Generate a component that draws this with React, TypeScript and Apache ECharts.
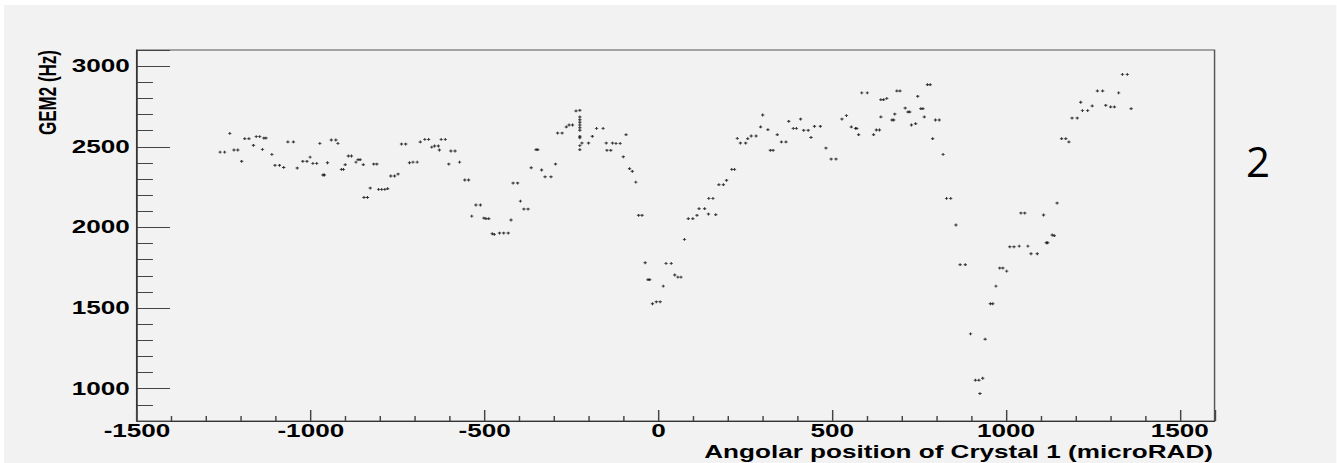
import React, { useEffect, useRef } from "react";
import * as echarts from "echarts";

// Angular position of crystal 1 (microRAD)
const xVals: number[] = [
  -1261, -1248, -1233, -1221, -1210, -1199, -1190, -1178, -1165, -1157, -1147, -1139, -1135, -1129,
  -1112, -1103, -1090, -1078, -1066, -1050, -1039, -1023, -1011, -1002, -994, -983, -974, -965, -961,
  -952, -941, -928, -922, -912, -906, -901, -892, -883, -870, -864, -858, -849, -847, -837, -829, -819,
  -810, -805, -796, -787, -779, -770, -759, -749, -739, -727, -716, -706, -694, -685, -672, -661, -652,
  -644, -633, -630, -625, -613, -603, -597, -585, -572, -557, -546, -537, -525, -512, -502, -496, -488,
  -478, -472, -457, -445, -432, -424, -418, -405, -397, -387, -375, -366, -352, -347, -336, -326, -309,
  -296, -290, -277, -265, -257, -247, -237, -226, -226, -226, -226, -226, -226, -226, -226, -226, -226,
  -226, -220, -201, -190, -178, -159, -150, -148, -137, -132, -122, -110, -101, -93, -83, -75, -65, -57,
  -47, -38, -30, -25, -17, -6, 5, 14, 22, 37, 47, 56, 65, 75, 86, 99, 111, 117, 133, 144, 145, 157, 165,
  174, 187, 196, 211, 219, 227, 236, 251, 257, 267, 281, 294, 300, 315, 322, 330, 342, 354, 367, 375,
  388, 397, 409, 418, 431, 439, 449, 466, 482, 497, 511, 528, 541, 555, 567, 571, 576, 585, 601, 619,
  627, 636, 640, 648, 640, 657, 672, 677, 680, 686, 695, 710, 718, 723, 728, 740, 746, 755, 761, 765,
  774, 782, 789, 797, 808, 819, 829, 841, 856, 868, 883, 898, 912, 922, 925, 933, 940, 955, 962, 971,
  982, 991, 1002, 1011, 1023, 1038, 1043, 1054, 1063, 1072, 1090, 1108, 1116, 1120, 1133, 1139, 1147,
  1160, 1172, 1181, 1190, 1205, 1215, 1220, 1235, 1248, 1263, 1278, 1287, 1301, 1312, 1324, 1335, 1349,
  1360,
];

// GEM2 rate (Hz)
const yVals: number[] = [
  2467, 2467, 2583, 2480, 2480, 2410, 2550, 2550, 2509, 2563, 2563, 2484, 2554, 2554,
  2453, 2385, 2385, 2372, 2530, 2530, 2368, 2410, 2410, 2436, 2397, 2397, 2521, 2325, 2325,
  2401, 2542, 2542, 2521, 2360, 2360, 2389, 2443, 2443, 2405, 2420, 2420, 2389, 2186, 2186, 2244, 2393,
  2393, 2236, 2236, 2236, 2240, 2319, 2319, 2331, 2517, 2517, 2401, 2405, 2405, 2530, 2546, 2546, 2498,
  2505, 2505, 2480, 2546, 2546, 2393, 2474, 2474, 2405, 2294, 2294, 2070, 2139, 2139, 2058, 2054, 2054,
  1961, 1957, 1965, 1965, 1965, 2046, 2275, 2275, 2163, 2114, 2114, 2370, 2482, 2482, 2356, 2314, 2314,
  2393, 2585, 2585, 2623, 2635, 2635, 2722, 2726, 2685, 2668, 2652, 2635, 2618, 2602, 2565, 2556, 2507,
  2482, 2523, 2523, 2565, 2614, 2614, 2523, 2478, 2478, 2523, 2521, 2521, 2438, 2575, 2364, 2348, 2281, 2075,
  2075, 1781, 1676, 1676, 1527, 1539, 1539, 1636, 1777, 1777, 1705, 1692, 1692, 1926, 2054, 2054, 2075, 2116, 2116, 2083, 2180, 2180, 2079,
  2265, 2265, 2292, 2360, 2360, 2552, 2523, 2523, 2550, 2567, 2567, 2623, 2697, 2606, 2478, 2478, 2575, 2530, 2530, 2658,
  2614, 2614, 2672, 2602, 2602, 2558, 2627, 2627, 2492, 2424, 2424, 2672, 2693, 2623, 2614, 2614, 2575, 2834, 2834, 2575,
  2604, 2604, 2792, 2792, 2685, 2800, 2666, 2666, 2703, 2846, 2846, 2740, 2716, 2716, 2635, 2643, 2813, 2736, 2736, 2685,
  2885, 2885, 2550, 2666, 2666, 2453, 2180, 2180, 2015, 1769, 1769, 1340, 1053, 1053, 970, 1065, 1307, 1527, 1527, 1636,
  1748, 1748, 1729, 1880, 1880, 1884, 2089, 2089, 1884, 1837, 1837, 2077, 1905, 1905, 1953, 1949, 2151,
  2550, 2550, 2530, 2678, 2678, 2776, 2724, 2724, 2753, 2846, 2846, 2757, 2747, 2747, 2834, 2949, 2949,
  2736,
];

const xTickLabels: number[] = [-1500, -1000, -500, 0, 500, 1000, 1500];
const yTickLabels: number[] = [1000, 1500, 2000, 2500, 3000];

const xTitle = "Angolar position of Crystal 1 (microRAD)";
const yTitle = "GEM2 (Hz)";
const padLabel = "2";

// the reference picture is stretched horizontally
const SX = 1.45;
const FULL_W = 1333;
const FULL_H = 458;
const CW = FULL_W / SX;

const labelFont = {
  fontFamily: "Liberation Sans",
  fontWeight: "bold" as const,
  fontSize: 18,
  color: "#000",
};

export default function App() {
  const ref = useRef<HTMLDivElement>(null);

  useEffect(() => {
    if (!ref.current) return;
    const chart = echarts.init(ref.current, undefined, { renderer: "svg" });
    const data = xVals.map((x, i) => [x, yVals[i]]);
    const plotLeft = (137 - 4) / SX;
    const plotRight = (1215 - 4) / SX;

    chart.setOption({
      animation: false,
      backgroundColor: "#f2f2f2",
      grid: {
        left: plotLeft,
        right: CW - plotRight,
        top: 45,
        bottom: 42,
        show: true,
        borderColor: "#555",
        borderWidth: 1,
        backgroundColor: "transparent",
        containLabel: false,
      },
      xAxis: {
        type: "value",
        min: -1500,
        max: 1600,
        interval: 500,
        axisLine: { show: true, onZero: false, lineStyle: { color: "#333", width: 1 } },
        axisTick: { show: true, inside: true, length: 11, lineStyle: { color: "#444", width: 1 } },
        minorTick: { show: true, splitNumber: 5, length: 5, lineStyle: { color: "#444", width: 1 } },
        splitLine: { show: false },
        minorSplitLine: { show: false },
        axisLabel: {
          ...labelFont,
          margin: 1,
          showMaxLabel: false,
          formatter: (v: number) => (xTickLabels.includes(v) ? String(v) : ""),
        },
      },
      yAxis: {
        type: "value",
        min: 800,
        max: 3100,
        splitNumber: 5,
        axisLine: { show: true, onZero: false, lineStyle: { color: "#333", width: 1 } },
        axisTick: { show: true, inside: true, length: 22.8, lineStyle: { color: "#444", width: 1 } },
        minorTick: { show: true, splitNumber: 5, length: 11, lineStyle: { color: "#444", width: 1 } },
        splitLine: { show: false },
        minorSplitLine: { show: false },
        axisLabel: {
          ...labelFont,
          margin: 5,
          showMinLabel: false,
          showMaxLabel: false,
          formatter: (v: number) => (yTickLabels.includes(v) ? String(v) : ""),
        },
      },
      series: [
        {
          type: "scatter",
          data,
          symbol: "path://M0,1H3V2H0Z M1,0H2V3H1Z",
          symbolSize: [2.3, 2.8],
          itemStyle: { color: "#000" },
          emphasis: { disabled: true },
        },
      ],
      graphic: [
        {
          type: "text",
          x: (1213 - 4) / SX,
          y: 446.5,
          style: {
            text: xTitle,
            fontFamily: "Liberation Sans",
            fontWeight: "bold",
            fontSize: 18,
            lineHeight: 18,
            fill: "#000",
            align: "right",
            verticalAlign: "middle",
          },
        },
        {
          type: "text",
          x: (47.5 - 4) / SX,
          y: 45,
          rotation: Math.PI / 2,
          style: {
            text: yTitle,
            fontFamily: "Liberation Sans",
            fontWeight: "bold",
            fontSize: 17,
            fill: "#000",
            align: "right",
            verticalAlign: "middle",
          },
        },
        {
          type: "text",
          x: (1258 - 4) / SX,
          y: 156,
          scaleX: 1 / SX,
          style: {
            text: padLabel,
            fontFamily: "Open Sans",
            fontSize: 42,
            fill: "#000",
            align: "center",
            verticalAlign: "middle",
          },
        },
      ],
    });

    return () => chart.dispose();
  }, []);

  return (
    <div
      style={{
        position: "fixed",
        left: 0,
        top: 0,
        width: 1337,
        height: 463,
        background: "#ffffff",
        overflow: "hidden",
      }}
    >
      <div
        style={{
          position: "absolute",
          left: 4,
          top: 5,
          width: CW,
          height: FULL_H,
          transform: `scaleX(${SX})`,
          transformOrigin: "0 0",
        }}
      >
        <div ref={ref} style={{ width: CW, height: FULL_H }} />
      </div>
    </div>
  );
}
